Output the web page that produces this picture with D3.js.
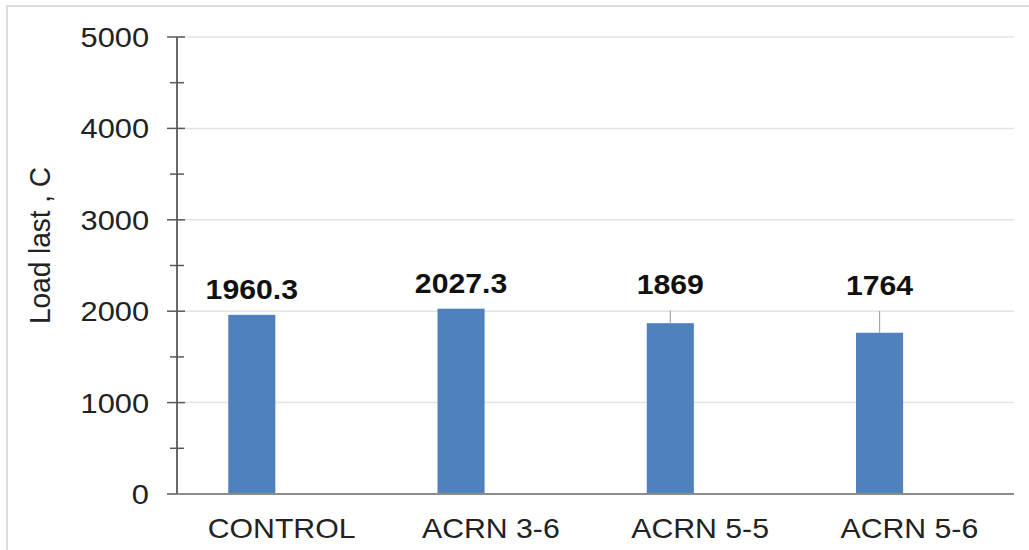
<!DOCTYPE html>
<html>
<head>
<meta charset="utf-8">
<script src="https://cdn.jsdelivr.net/npm/d3@7"></script>
<style>
  html, body { margin: 0; padding: 0; background: #fff; }
  svg { display: block; }
  text { font-family: "Liberation Sans", Arial, sans-serif; }
</style>
</head>
<body>
<svg id="chart" width="1029" height="550"></svg>
<script>
const categories = ["CONTROL", "ACRN 3-6", "ACRN 5-5", "ACRN 5-6"];
const values = [1960.3, 2027.3, 1869, 1764];
const valueLabels = ["1960.3", "2027.3", "1869", "1764"];
const errors = [0, 0, 140, 240];
const yTicks = [0, 1000, 2000, 3000, 4000, 5000];
const yMinorTicks = [500, 1500, 2500, 3500, 4500];
const yTitle = "Load last , C";

const svg = d3.select("#chart");
const W = 1029, H = 550;
const m = { left: 177, right: 15, top: 37, bottom: 56 };

// outer frame
svg.append("rect").attr("x", 7).attr("y", 6).attr("width", W + 10).attr("height", H + 10)
  .attr("fill", "#fff").attr("stroke", "#dcdcdc").attr("stroke-width", 2);

const x = d3.scaleBand().domain(categories).range([m.left, W - m.right]).paddingInner(0).paddingOuter(0);
const y = d3.scaleLinear().domain([0, 5000]).range([H - m.bottom, m.top]);

// gridlines
svg.append("g").selectAll("line").data(yTicks.filter(t => t > 0)).join("line")
  .attr("x1", m.left).attr("x2", W - m.right)
  .attr("y1", d => y(d)).attr("y2", d => y(d))
  .attr("stroke", "#e3e3e3").attr("stroke-width", 1.5);

// bars
const bw = x.bandwidth();
const barX = c => x(c) + bw * 0.245;
const barW = bw * 0.225;
svg.append("g").selectAll("rect").data(categories).join("rect")
  .attr("x", c => barX(c)).attr("width", barW)
  .attr("y", (c, i) => y(values[i])).attr("height", (c, i) => y(0) - y(values[i]))
  .attr("fill", "#4f81bd");

// error bars (plus direction only)
svg.append("g").selectAll("line").data(categories).join("line")
  .attr("x1", c => barX(c) + barW / 2).attr("x2", c => barX(c) + barW / 2)
  .attr("y1", (c, i) => y(values[i])).attr("y2", (c, i) => y(values[i] + errors[i]))
  .attr("stroke", "#a6a6a6").attr("stroke-width", 1.2);

// value labels
svg.append("g").selectAll("text").data(categories).join("text")
  .attr("transform", (c, i) => `translate(${barX(c) + barW / 2},${y(values[i] + errors[i]) - 16}) scale(1.12,1)`)
  .attr("text-anchor", "middle")
  .attr("font-size", 27).attr("font-weight", "bold").attr("fill", "#111")
  .text((c, i) => valueLabels[i]);

// y axis
const yAxis = svg.append("g");
yAxis.append("line").attr("x1", m.left).attr("x2", m.left).attr("y1", y(5000)).attr("y2", y(0))
  .attr("stroke", "#595959").attr("stroke-width", 1.8);
yAxis.selectAll("line.major").data(yTicks).join("line").attr("class", "major")
  .attr("x1", m.left - 10).attr("x2", m.left + 8).attr("y1", d => y(d)).attr("y2", d => y(d))
  .attr("stroke", "#595959").attr("stroke-width", 1.5);
yAxis.selectAll("line.minor").data(yMinorTicks).join("line").attr("class", "minor")
  .attr("x1", m.left - 7).attr("x2", m.left + 7).attr("y1", d => y(d)).attr("y2", d => y(d))
  .attr("stroke", "#595959").attr("stroke-width", 1.5);
yAxis.selectAll("text").data(yTicks).join("text")
  .attr("transform", d => `translate(${m.left - 28},${y(d)}) scale(1.1,1)`)
  .attr("text-anchor", "end").attr("dy", "0.36em")
  .attr("font-size", 28).attr("fill", "#222")
  .text(d => d);

// x axis
svg.append("line").attr("x1", m.left).attr("x2", W - m.right).attr("y1", y(0)).attr("y2", y(0))
  .attr("stroke", "#8c8c8c").attr("stroke-width", 2);
svg.append("g").selectAll("text").data(categories).join("text")
  .attr("transform", c => `translate(${x(c) + bw / 2},${y(0) + 44}) scale(1.08,1)`)
  .attr("text-anchor", "middle").attr("font-size", 28).attr("fill", "#222")
  .text(c => c);

// y title
svg.append("text")
  .attr("transform", `translate(50,${(y(0) + y(5000)) / 2 - 20}) rotate(-90) scale(1,1.08)`)
  .attr("text-anchor", "middle").attr("font-size", 28).attr("fill", "#222")
  .text(yTitle);
</script>
</body>
</html>
